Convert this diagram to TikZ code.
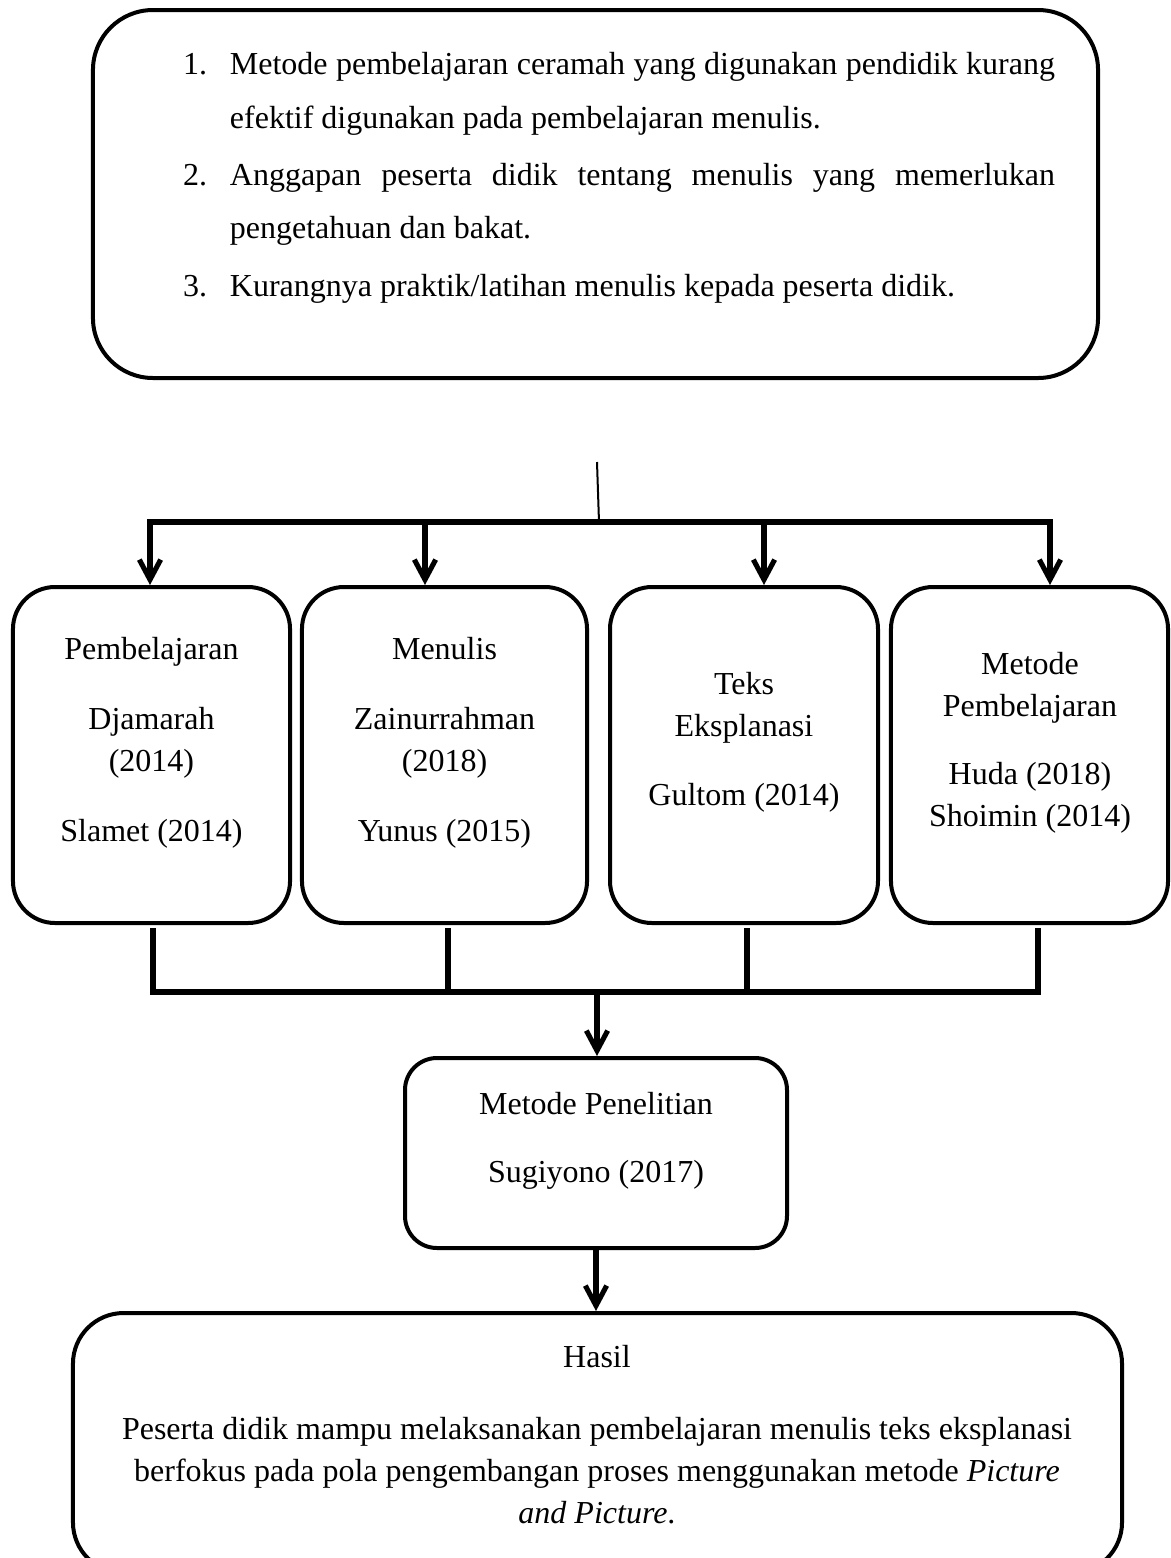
\documentclass[tikz,border=0pt]{standalone}
\usepackage{fontspec}
\setmainfont{Liberation Serif}
\usetikzlibrary{arrows.meta}

\tikzset{every picture/.style={line width=0.75pt}}
\tikzset{
  kotak/.style={draw, line width=1.5pt, rounded corners=15.75pt, minimum width=103.9pt, minimum height=126pt, inner sep=0pt},
  isi/.style={align=center, inner sep=0pt, font=\fontsize{12pt}{15.75pt}\selectfont},
  garis/.style={line width=1.9pt},
  panah/.style={garis, -{Straight Barb[length=7.5pt,width=8pt]}},
  panahdua/.style={garis, {Straight Barb[length=7.5pt,width=8pt]}-{Straight Barb[length=7.5pt,width=8pt]}},
}

\begin{document}
\begin{tikzpicture}[x=0.375pt,y=0.375pt,yscale=-1,xscale=1]
	\useasboundingbox (0,0) rectangle (1171,1558);
	\clip (0,0) rectangle (1171,1558);

	%Rounded Rect (masalah)
	\node [kotak, rounded corners=22.5pt, minimum width=376.9pt, minimum height=138pt] (masalah) at (595.5,194) {};
	%Rounded Rect (kajian)
	\node [kotak] (pemb) at (151.5,755) {};
	\node [kotak, minimum width=106.9pt] (menulis) at (444.5,755) {};
	\node [kotak, minimum width=100.5pt] (teks) at (744,755) {};
	\node [kotak] (metode) at (1029.5,755) {};
	%Rounded Rect (penelitian)
	\node [kotak, rounded corners=12pt, minimum width=143.25pt, minimum height=71.25pt] (mp) at (596,1153) {};
	%Rounded Rect (hasil)
	\node [kotak, rounded corners=19pt, minimum width=393.4pt, minimum height=97.5pt] (hasil) at (597.5,1443) {};

	% Text Node
	\node [isi, align=justify, text width=327pt, font=\fontsize{12pt}{20pt}\selectfont] (daftar) at (619,178) {%
		\setlength{\parskip}{1.5pt}%
		\noindent\hangindent=17.6pt\hangafter=1\makebox[17.6pt][l]{1.}Metode pembelajaran ceramah yang digunakan pendidik kurang\linebreak efektif digunakan pada pembelajaran menulis.\par
		\noindent\hangindent=17.6pt\hangafter=1\makebox[17.6pt][l]{2.}Anggapan peserta didik tentang menulis yang memerlukan\linebreak pengetahuan dan bakat.\par
		\noindent\hangindent=17.6pt\hangafter=1\makebox[17.6pt][l]{3.}Kurangnya praktik/latihan menulis kepada peserta didik.\par};
	% Text Node
	\node [isi] (pemb-t) at (151.5,743) {Pembelajaran\\[10.5pt]Djamarah\\(2014)\\[10.5pt]Slamet (2014)};
	% Text Node
	\node [isi] (menulis-t) at (444.5,743) {Menulis\\[10.5pt]Zainurrahman\\(2018)\\[10.5pt]Yunus (2015)};
	% Text Node
	\node [isi] (teks-t) at (744,742) {Teks\\Eksplanasi\\[10pt]Gultom (2014)};
	% Text Node
	\node [isi] (metode-t) at (1030,742.5) {Metode\\Pembelajaran\\[9.75pt]Huda (2018)\\Shoimin (2014)};
	% Text Node
	\node [isi] (mp-t) at (596,1141) {Metode Penelitian\\[9.75pt]Sugiyono (2017)};
	% Text Node
	\node [isi] (hasil-t) at (597,1434.5) {Hasil\\[11.25pt]Peserta didik mampu melaksanakan pembelajaran menulis teks eksplanasi\\berfokus pada pola pengembangan proses menggunakan metode \textit{Picture}\\\textit{and Picture}.};

	%Straight Lines (atas)
	\coordinate (pangkal) at (597,462);
	\coordinate (cabang) at (599,522);
	\coordinate (kiri) at (150,522);
	\coordinate (c2) at (425,522);
	\coordinate (c3) at (764,522);
	\coordinate (kanan) at (1050,522);
	\draw (pangkal) -- (cabang);
	\draw [panahdua] (kiri |- pemb.north) -- (kiri) -- (kanan) -- (kanan |- metode.north);
	\draw [panah] (c2) -- (c2 |- menulis.north);
	\draw [panah] (c3) -- (c3 |- teks.north);

	%Straight Lines (bawah)
	\coordinate (s1) at (153,928);
	\coordinate (s2) at (448,928);
	\coordinate (s3) at (747,928);
	\coordinate (s4) at (1038,928);
	\coordinate (g1) at (153,992);
	\coordinate (g2) at (448,992);
	\coordinate (g3) at (747,992);
	\coordinate (g4) at (1038,992);
	\coordinate (g0) at (597,992);
	\draw [garis] (s1) -- (g1) -- (g4) -- (s4);
	\draw [garis] (s2) -- (g2);
	\draw [garis] (s3) -- (g3);
	\draw [panah] (g0) -- (g0 |- mp.north);
	\draw [panah] (mp.south) -- (mp.south |- hasil.north);

\end{tikzpicture}
\end{document}
